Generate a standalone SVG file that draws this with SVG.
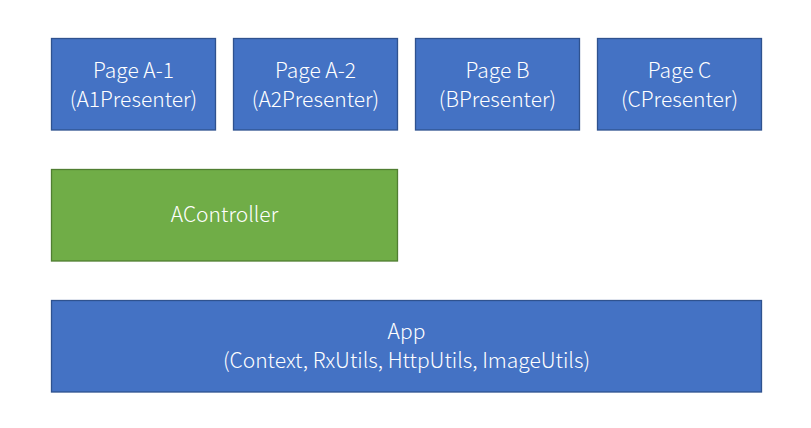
<svg xmlns="http://www.w3.org/2000/svg" width="811" height="428" viewBox="0 0 811 428">
<style>
.b{fill:#4472C4;stroke:#2F528F;stroke-width:1.3}
.g{fill:#70AD47;stroke:#507E32;stroke-width:1.3}
text{fill:#fff;font-family:"Noto Sans CJK SC","Noto Sans",sans-serif;font-size:21px;font-weight:300;text-anchor:middle}
</style>
<rect width="811" height="428" fill="#fff"/>
<g id="pageA1"><rect class="b" x="51.5" y="38.5" width="164" height="91.5"/><text x="133.5" y="78">Page A-1</text><text x="133.5" y="106.5">(A1Presenter)</text></g>
<g id="pageA2"><rect class="b" x="233.5" y="38.5" width="164" height="91.5"/><text x="315.5" y="78">Page A-2</text><text x="315.5" y="106.5">(A2Presenter)</text></g>
<g id="pageB"><rect class="b" x="415.5" y="38.5" width="164" height="91.5"/><text x="497.5" y="78">Page B</text><text x="497.5" y="106.5">(BPresenter)</text></g>
<g id="pageC"><rect class="b" x="597.5" y="38.5" width="164" height="91.5"/><text x="679.5" y="78">Page C</text><text x="679.5" y="106.5">(CPresenter)</text></g>
<g id="acontroller"><rect class="g" x="51.5" y="169.5" width="346" height="91.5"/><text x="224.5" y="222">AController</text></g>
<g id="app"><rect class="b" x="51.5" y="300.5" width="710" height="91.5"/><text x="406.5" y="339">App</text><text x="406.5" y="368">(Context, RxUtils, HttpUtils, ImageUtils)</text></g>
<g id="connectors"></g>
</svg>
